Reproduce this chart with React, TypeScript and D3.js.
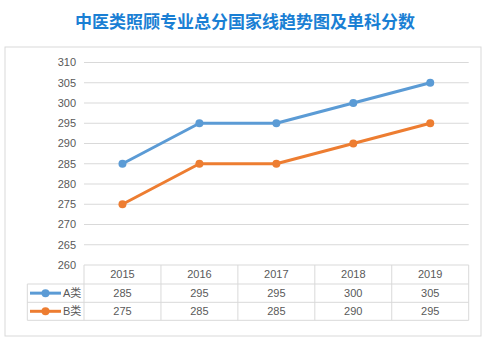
import React from "react";
import * as d3 from "d3";

const years = ["2015", "2016", "2017", "2018", "2019"];
const seriesA = [285, 295, 295, 300, 305];
const seriesB = [275, 285, 285, 290, 295];
const seriesNames = ["A类", "B类"];
const seriesColors = ["#5b9bd5", "#ed7d31"];
const yTicks = [260, 265, 270, 275, 280, 285, 290, 295, 300, 305, 310];
const title = "中医类照顾专业总分国家线趋势图及单科分数";

export default function App() {
  const W = 490, H = 338;
  const left = 84, right = 468.7;
  const y = d3.scaleLinear().domain([260, 310]).range([265, 62.5]);
  const x = d3.scaleBand().domain(years).range([left, right]);
  const series = [seriesA, seriesB];
  const line = d3.line<number>().x((_, i) => (x(years[i]) as number) + x.bandwidth() / 2).y((v) => y(v));
  const rowTops = [265, 284, 302.3, 320.3];
  const legLeft = 27.3;
  const grid = "#d9d9d9";
  const txt = "#595959";
  const font = "'Liberation Sans', 'Noto Sans CJK SC', sans-serif";
  return (
    <svg width={W} height={H} style={{ position: "absolute", left: 0, top: 0, background: "#fff" }}>
      <text x={245} y={27.5} textAnchor="middle" fontSize={17} fontWeight="bold" fill="#1a7fd4" fontFamily="'Noto Sans CJK SC', sans-serif">{title}</text>
      <rect x={5} y={47} width={476} height={289} fill="#fff" stroke={grid} strokeWidth={1} />
      {yTicks.map((t) => (
        <g key={t}>
          {t > 260 && <line x1={left} x2={right} y1={y(t)} y2={y(t)} stroke={grid} strokeWidth={1} />}
          <text x={76} y={y(t)} dy="0.35em" textAnchor="end" fontSize={11} fill={txt} fontFamily={font}>{t}</text>
        </g>
      ))}
      {/* table */}
      <line x1={left} x2={right} y1={rowTops[0]} y2={rowTops[0]} stroke={grid} />
      {[1, 2, 3].map((r) => (
        <line key={r} x1={legLeft} x2={right} y1={rowTops[r]} y2={rowTops[r]} stroke={grid} />
      ))}
      <line x1={legLeft} x2={legLeft} y1={rowTops[1]} y2={rowTops[3]} stroke={grid} />
      {years.map((yr) => (
        <line key={yr} x1={x(yr)} x2={x(yr)} y1={rowTops[0]} y2={rowTops[3]} stroke={grid} />
      ))}
      <line x1={right} x2={right} y1={rowTops[0]} y2={rowTops[3]} stroke={grid} />
      {years.map((yr) => (
        <text key={yr} x={(x(yr) as number) + x.bandwidth() / 2} y={(rowTops[0] + rowTops[1]) / 2} dy="0.35em" textAnchor="middle" fontSize={11} fill={txt} fontFamily={font}>{yr}</text>
      ))}
      {series.map((s, si) => (
        <g key={si}>
          {s.map((v, i) => (
            <text key={i} x={(x(years[i]) as number) + x.bandwidth() / 2} y={(rowTops[si + 1] + rowTops[si + 2]) / 2} dy="0.35em" textAnchor="middle" fontSize={11} fill={txt} fontFamily={font}>{v}</text>
          ))}
          <line x1={30} x2={61} y1={(rowTops[si + 1] + rowTops[si + 2]) / 2} y2={(rowTops[si + 1] + rowTops[si + 2]) / 2} stroke={seriesColors[si]} strokeWidth={3} />
          <circle cx={45.5} cy={(rowTops[si + 1] + rowTops[si + 2]) / 2} r={4} fill={seriesColors[si]} />
          <text x={63} y={(rowTops[si + 1] + rowTops[si + 2]) / 2} dy="0.35em" fontSize={11} fill={txt} fontFamily={font}>{seriesNames[si]}</text>
        </g>
      ))}
      {series.map((s, si) => (
        <g key={"l" + si}>
          <path d={line(s) || ""} fill="none" stroke={seriesColors[si]} strokeWidth={3} strokeLinejoin="round" />
          {s.map((v, i) => (
            <circle key={i} cx={(x(years[i]) as number) + x.bandwidth() / 2} cy={y(v)} r={4} fill={seriesColors[si]} />
          ))}
        </g>
      ))}
    </svg>
  );
}
